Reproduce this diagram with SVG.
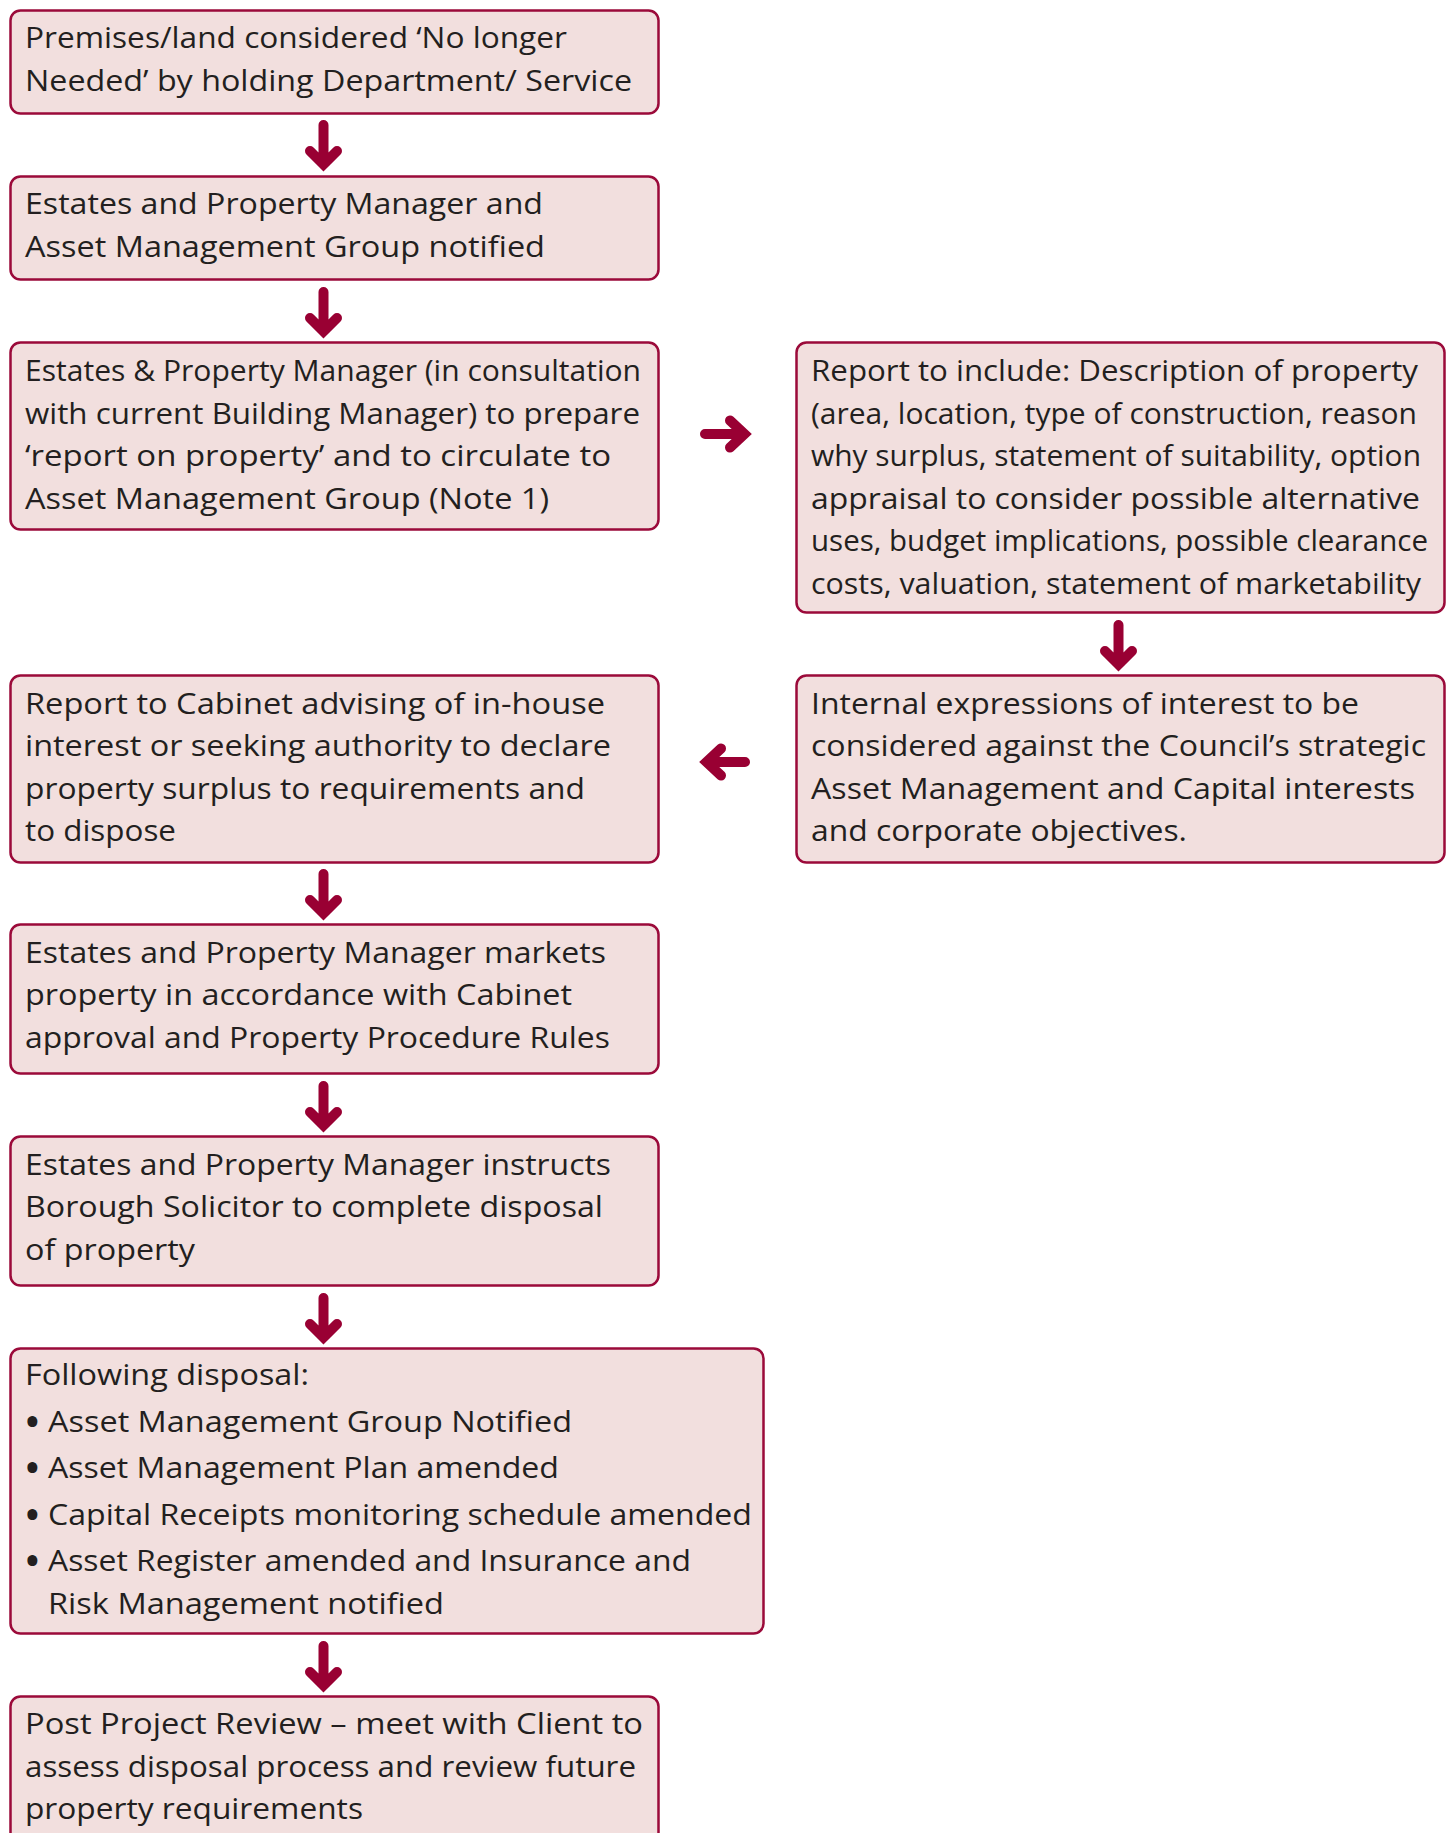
<svg xmlns="http://www.w3.org/2000/svg" width="1451" height="1833" viewBox="0 0 1451 1833">
<style>
.box{fill:#F2DFDE;stroke:#9B0A3A;stroke-width:2.5}
.t{font-family:"Open Sans","Noto Sans","Liberation Sans",sans-serif;font-size:28.5px;fill:#231F20}
.b{font-family:"Open Sans","Noto Sans","Liberation Sans",sans-serif;font-size:28.5px;fill:#231F20;stroke:#231F20;stroke-width:4;stroke-linejoin:round}
.arr{fill:none;stroke:#990033;stroke-width:10;stroke-linecap:round;stroke-linejoin:miter}
</style>
<rect width="1451" height="1833" fill="#FFFFFF"/>
<g id="n1"><rect class="box" x="10.5" y="10.5" width="648" height="103" rx="10"/>
<text class="t" x="25" y="47.5" textLength="542" lengthAdjust="spacingAndGlyphs">Premises/land considered ‘No longer</text>
<text class="t" x="25" y="90.5" textLength="607" lengthAdjust="spacingAndGlyphs">Needed’ by holding Department/ Service</text></g>
<g id="n2"><rect class="box" x="10.5" y="176.5" width="648" height="103" rx="10"/>
<text class="t" x="25" y="213.5" textLength="518" lengthAdjust="spacingAndGlyphs">Estates and Property Manager and</text>
<text class="t" x="25" y="256.5" textLength="520" lengthAdjust="spacingAndGlyphs">Asset Management Group notified</text></g>
<g id="n3"><rect class="box" x="10.5" y="342.5" width="648" height="187" rx="10"/>
<text class="t" x="25" y="381" textLength="616" lengthAdjust="spacingAndGlyphs">Estates &amp; Property Manager (in consultation</text>
<text class="t" x="25" y="423.5" textLength="615" lengthAdjust="spacingAndGlyphs">with current Building Manager) to prepare</text>
<text class="t" x="25" y="466" textLength="586" lengthAdjust="spacingAndGlyphs">‘report on property’ and to circulate to</text>
<text class="t" x="25" y="508.5" textLength="524" lengthAdjust="spacingAndGlyphs">Asset Management Group (Note 1)</text></g>
<g id="n4"><rect class="box" x="796.5" y="342.5" width="648" height="270" rx="10"/>
<text class="t" x="811" y="381" textLength="607" lengthAdjust="spacingAndGlyphs">Report to include: Description of property</text>
<text class="t" x="811" y="423.5" textLength="606" lengthAdjust="spacingAndGlyphs">(area, location, type of construction, reason</text>
<text class="t" x="811" y="466" textLength="610" lengthAdjust="spacingAndGlyphs">why surplus, statement of suitability, option</text>
<text class="t" x="811" y="508.5" textLength="609" lengthAdjust="spacingAndGlyphs">appraisal to consider possible alternative</text>
<text class="t" x="811" y="551" textLength="617" lengthAdjust="spacingAndGlyphs">uses, budget implications, possible clearance</text>
<text class="t" x="811" y="593.5" textLength="610" lengthAdjust="spacingAndGlyphs">costs, valuation, statement of marketability</text></g>
<g id="n5"><rect class="box" x="796.5" y="675.5" width="648" height="187" rx="10"/>
<text class="t" x="811" y="713.5" textLength="548" lengthAdjust="spacingAndGlyphs">Internal expressions of interest to be</text>
<text class="t" x="811" y="756" textLength="615" lengthAdjust="spacingAndGlyphs">considered against the Council’s strategic</text>
<text class="t" x="811" y="798.5" textLength="604" lengthAdjust="spacingAndGlyphs">Asset Management and Capital interests</text>
<text class="t" x="811" y="841" textLength="376" lengthAdjust="spacingAndGlyphs">and corporate objectives.</text></g>
<g id="n6"><rect class="box" x="10.5" y="675.5" width="648" height="187" rx="10"/>
<text class="t" x="25" y="713.5" textLength="580" lengthAdjust="spacingAndGlyphs">Report to Cabinet advising of in-house</text>
<text class="t" x="25" y="756" textLength="586" lengthAdjust="spacingAndGlyphs">interest or seeking authority to declare</text>
<text class="t" x="25" y="798.5" textLength="560" lengthAdjust="spacingAndGlyphs">property surplus to requirements and</text>
<text class="t" x="25" y="841" textLength="151" lengthAdjust="spacingAndGlyphs">to dispose</text></g>
<g id="n7"><rect class="box" x="10.5" y="924.5" width="648" height="149" rx="10"/>
<text class="t" x="25" y="962.5" textLength="581" lengthAdjust="spacingAndGlyphs">Estates and Property Manager markets</text>
<text class="t" x="25" y="1005" textLength="547" lengthAdjust="spacingAndGlyphs">property in accordance with Cabinet</text>
<text class="t" x="25" y="1047.5" textLength="585" lengthAdjust="spacingAndGlyphs">approval and Property Procedure Rules</text></g>
<g id="n8"><rect class="box" x="10.5" y="1136.5" width="648" height="149" rx="10"/>
<text class="t" x="25" y="1174.5" textLength="586" lengthAdjust="spacingAndGlyphs">Estates and Property Manager instructs</text>
<text class="t" x="25" y="1217" textLength="578" lengthAdjust="spacingAndGlyphs">Borough Solicitor to complete disposal</text>
<text class="t" x="25" y="1259.5" textLength="170" lengthAdjust="spacingAndGlyphs">of property</text></g>
<g id="n9"><rect class="box" x="10.5" y="1348.5" width="753" height="285" rx="10"/>
<text class="t" x="25" y="1385" textLength="284" lengthAdjust="spacingAndGlyphs">Following disposal:</text>
<text class="b" x="27" y="1431.5">•</text><text class="t" x="48" y="1431.5" textLength="524" lengthAdjust="spacingAndGlyphs">Asset Management Group Notified</text>
<text class="b" x="27" y="1478">•</text><text class="t" x="48" y="1478" textLength="511" lengthAdjust="spacingAndGlyphs">Asset Management Plan amended</text>
<text class="b" x="27" y="1524.5">•</text><text class="t" x="48" y="1524.5" textLength="704" lengthAdjust="spacingAndGlyphs">Capital Receipts monitoring schedule amended</text>
<text class="b" x="27" y="1571">•</text><text class="t" x="48" y="1571" textLength="643" lengthAdjust="spacingAndGlyphs">Asset Register amended and Insurance and</text>
<text class="t" x="48" y="1613.5" textLength="396" lengthAdjust="spacingAndGlyphs">Risk Management notified</text></g>
<g id="n10"><rect class="box" x="10.5" y="1696.5" width="648" height="160" rx="10"/>
<text class="t" x="25" y="1734" textLength="618" lengthAdjust="spacingAndGlyphs">Post Project Review – meet with Client to</text>
<text class="t" x="25" y="1776.5" textLength="611" lengthAdjust="spacingAndGlyphs">assess disposal process and review future</text>
<text class="t" x="25" y="1819" textLength="338" lengthAdjust="spacingAndGlyphs">property requirements</text></g>
<g id="connectors">
<path class="arr" d="M323.5,125 V163 M310,151 L323.5,164.5 L337,151"/>
<path class="arr" d="M323.5,292 V330 M310,318 L323.5,331.5 L337,318"/>
<path class="arr" d="M705,434 H743 M730,420.5 L744.5,434 L730,447.5"/>
<path class="arr" d="M1118.5,625 V663 M1105,651 L1118.5,664.5 L1132,651"/>
<path class="arr" d="M745,762 H707 M721,748.5 L706.5,762 L721,775.5"/>
<path class="arr" d="M323.5,874 V912 M310,900 L323.5,913.5 L337,900"/>
<path class="arr" d="M323.5,1086 V1124 M310,1112 L323.5,1125.5 L337,1112"/>
<path class="arr" d="M323.5,1298 V1336 M310,1324 L323.5,1337.5 L337,1324"/>
<path class="arr" d="M323.5,1646 V1684 M310,1672 L323.5,1685.5 L337,1672"/>
</g>
</svg>
